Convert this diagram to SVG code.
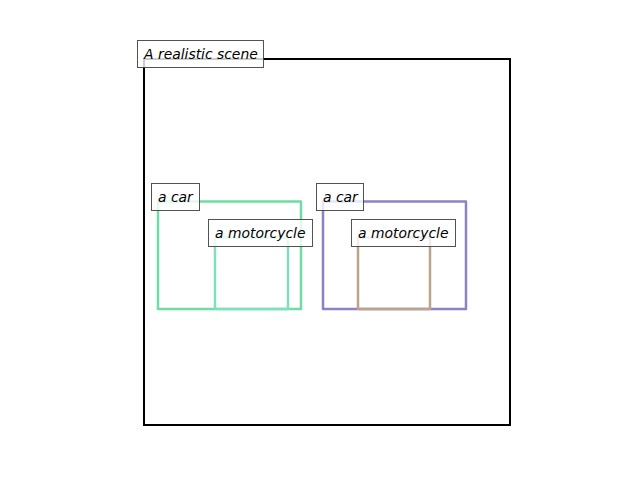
<svg xmlns="http://www.w3.org/2000/svg" width="640" height="480" viewBox="0 0 640 480">
<style>
.box{fill:none;stroke-width:2.5;stroke-linejoin:round}
.lbl rect{fill:#ffffff;fill-opacity:0.8;stroke:#3f3f3f;stroke-opacity:0.9;stroke-width:1}
.lbl text{font-family:"DejaVu Sans",sans-serif;font-style:italic;font-size:13.9px;fill:#000}
</style>
<rect width="640" height="480" fill="#ffffff"/>
<g id="scene">
<rect x="144" y="59" width="366" height="366" fill="none" stroke="#000" stroke-width="2"/>
</g>
<g id="connectors"></g>
<g id="car1"><rect class="box" x="158" y="201.5" width="143" height="107.5" stroke="#6fdca3"/></g>
<g id="moto1"><rect class="box" x="215" y="237.5" width="73" height="71.5" stroke="#80e0bd"/></g>
<g id="car2"><rect class="box" x="323" y="201.5" width="143" height="107.5" stroke="#8d83c2"/></g>
<g id="moto2"><rect class="box" x="358" y="237.5" width="72" height="71.5" stroke="#bba38c"/></g>
<g id="label-scene" class="lbl"><rect x="137.5" y="40.5" width="126" height="27"/><text x="144" y="58.5">A realistic scene</text></g>
<g id="label-car1" class="lbl"><rect x="151.5" y="183.5" width="48" height="27"/><text x="158" y="201.5">a car</text></g>
<g id="label-moto1" class="lbl"><rect x="208.5" y="219.5" width="104" height="27"/><text x="215" y="237.5">a motorcycle</text></g>
<g id="label-car2" class="lbl"><rect x="316.5" y="183.5" width="47" height="27"/><text x="323" y="201.5">a car</text></g>
<g id="label-moto2" class="lbl"><rect x="351.5" y="219.5" width="104" height="27"/><text x="358" y="237.5">a motorcycle</text></g>
</svg>
